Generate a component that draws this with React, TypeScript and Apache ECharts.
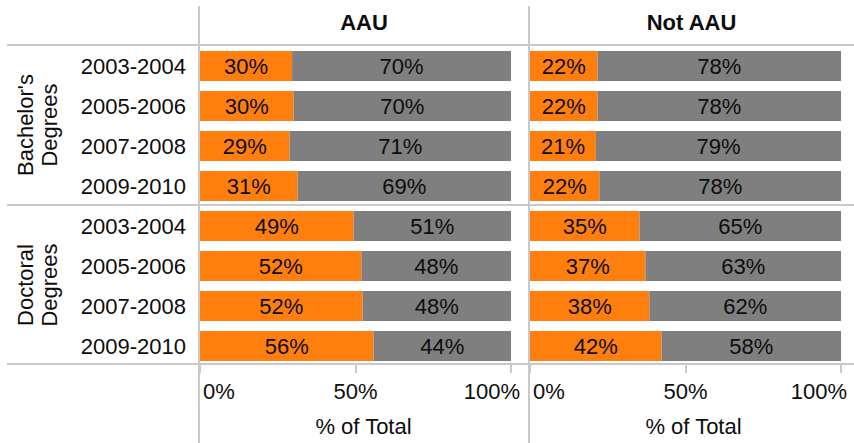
import React, { useEffect, useRef } from "react";
import * as echarts from "echarts";

// ---- data ----
const degreeGroups = ["Bachelor's Degrees", "Doctoral Degrees"];
const years = ["2003-2004", "2005-2006", "2007-2008", "2009-2010"];
const panels = ["AAU", "Not AAU"];
const xTicks = [0, 50, 100];

// share (% of total) for the orange part and the gray part, rows: Bachelor's x4 then Doctoral x4
const aauOrange = [29.6, 30.1, 28.8, 31.4, 49.4, 51.9, 52.3, 55.8];
const aauGray = [70.4, 69.9, 71.2, 68.6, 50.6, 48.1, 47.7, 44.2];
const notAauOrange = [21.7, 21.7, 21.2, 22.3, 35.2, 37.1, 38.4, 42.3];
const notAauGray = [78.3, 78.3, 78.8, 77.7, 64.8, 62.9, 61.6, 57.7];

const categories: string[] = [];
degreeGroups.forEach((g) => years.forEach((y) => categories.push(g + "|" + y)));

const FONT = "'Liberation Sans', Arial, Helvetica, sans-serif";
const FS = 22;
const TXT = "#0d0d0d";
const ORANGE = "#FF7F0E";
const GRAY = "#7F7F7F";
const RULE = "#c9c9c9";

export default function App() {
  const ref = useRef<HTMLDivElement>(null);
  useEffect(() => {
    if (!ref.current) return;
    const chart = echarts.init(ref.current, undefined, { renderer: "svg" });
    const panelData = [
      [aauOrange, aauGray],
      [notAauOrange, notAauGray],
    ];
    const gridLefts = [200, 530];
    const maxPad = [38, 44];

    const grids = gridLefts.map((l) => ({
      left: l,
      top: 46,
      width: 311,
      height: 320,
      containLabel: false,
      outerBoundsMode: "none",
    }));

    const xAxes = gridLefts.map((_, i) => ({
      gridIndex: i,
      type: "value",
      min: xTicks[0],
      max: xTicks[xTicks.length - 1],
      interval: xTicks[1] - xTicks[0],
      offset: -2,
      axisLine: { show: false },
      splitLine: { show: false },
      axisTick: { show: true, length: 9, lineStyle: { color: RULE, width: 2 } },
      axisLabel: {
        margin: 16,
        fontSize: FS,
        fontFamily: FONT,
        color: TXT,
        formatter: (v: number) =>
          v === xTicks[0] ? `{l|${v}%}` : v === xTicks[xTicks.length - 1] ? `{r|${v}%}` : `{m|${v}%}`,
        rich: {
          l: { fontSize: FS, fontFamily: FONT, color: TXT, padding: [0, 0, 0, 38] },
          m: { fontSize: FS, fontFamily: FONT, color: TXT },
          r: { fontSize: FS, fontFamily: FONT, color: TXT, padding: [0, maxPad[i], 0, 0] },
        },
      },
      name: "% of Total",
      nameLocation: "middle",
      nameGap: 51,
      nameTextStyle: { fontSize: FS, fontFamily: FONT, color: TXT, padding: [0, 0, 0, 16] },
    }));

    const yAxes = gridLefts.map((_, i) => ({
      gridIndex: i,
      type: "category",
      data: categories,
      inverse: true,
      axisLine: { show: false },
      axisTick: { show: false },
      splitLine: { show: false },
      axisLabel: {
        show: i === 0,
        margin: 14,
        fontSize: FS,
        fontFamily: FONT,
        color: TXT,
        formatter: (v: string) => v.split("|")[1],
      },
    }));

    const series: any[] = [];
    panelData.forEach((pair, i) => {
      pair.forEach((vals, k) => {
        series.push({
          type: "bar",
          name: panels[i] + (k === 0 ? " orange" : " gray"),
          xAxisIndex: i,
          yAxisIndex: i,
          stack: "p" + i,
          barWidth: 30,
          data: vals,
          itemStyle: { color: k === 0 ? ORANGE : GRAY },
          label: {
            show: true,
            position: "inside",
            fontSize: FS,
            fontFamily: FONT,
            color: TXT,
            formatter: (p: any) => Math.round(p.value) + "%",
          },
        });
      });
    });

    const hLine = (y: number) => ({
      type: "line",
      shape: { x1: 7, y1: y, x2: 854, y2: y },
      style: { stroke: RULE, lineWidth: 2 },
      silent: true,
    });
    const vLine = (x: number) => ({
      type: "line",
      shape: { x1: x, y1: 6, x2: x, y2: 443 },
      style: { stroke: RULE, lineWidth: 2 },
      silent: true,
    });

    const groupText = (label: string, y: number) => ({
      type: "text",
      x: 37.5,
      y,
      rotation: Math.PI / 2,
      style: {
        text: label.replace(" ", "\n"),
        fontSize: FS,
        fontFamily: FONT,
        fill: TXT,
        align: "center",
        verticalAlign: "middle",
        lineHeight: 24,
      },
    });

    chart.setOption({
      animation: false,
      backgroundColor: "#ffffff",
      grid: grids,
      xAxis: xAxes,
      yAxis: yAxes,
      series,
      graphic: [
        hLine(45),
        hLine(205),
        hLine(364),
        vLine(199),
        vLine(529),
        {
          type: "text",
          x: 364,
          y: 22,
          style: { text: panels[0], fontSize: FS, fontWeight: "bold", fontFamily: FONT, fill: TXT, align: "center", verticalAlign: "middle" },
        },
        {
          type: "text",
          x: 691.5,
          y: 22,
          style: { text: panels[1], fontSize: FS, fontWeight: "bold", fontFamily: FONT, fill: TXT, align: "center", verticalAlign: "middle" },
        },
        groupText(degreeGroups[0], 125),
        groupText(degreeGroups[1], 285),
      ],
    });
    return () => chart.dispose();
  }, []);
  return (
    <div
      ref={ref}
      style={{ position: "fixed", left: 0, top: 0, width: 854, height: 443, background: "#fff" }}
    />
  );
}
